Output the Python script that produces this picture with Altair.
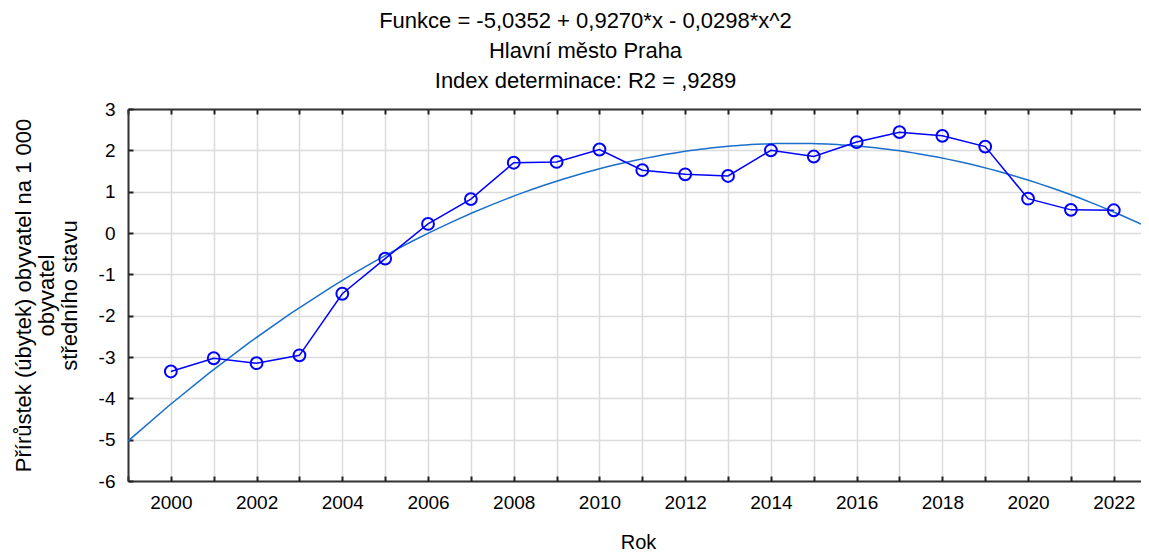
import altair as alt
import pandas as pd

# ---- data ----
years = list(range(2000, 2023))
values = [-3.35, -3.03, -3.15, -2.96, -1.47, -0.62, 0.22, 0.82, 1.70, 1.72,
          2.02, 1.52, 1.42, 1.38, 2.00, 1.85, 2.20, 2.44, 2.35, 2.09,
          0.83, 0.56, 0.55]
title_lines = ["Funkce = -5,0352 + 0,9270*x - 0,0298*x^2",
               "Hlavní město Praha",
               "Index determinace: R2 = ,9289"]
y_title = ["Přírůstek (úbytek) obyvatel na 1 000", "obyvatel", "středního stavu"]
x_title = "Rok"
x_domain = [1999, 2022.635]
y_domain = [-6, 3]
grid_years = list(range(1999, 2023))
y_ticks = list(range(-6, 4))

df = pd.DataFrame({"Rok": years, "val": values})

W, H = 1013, 372
FONT = "Liberation Sans"
BLUE = "#0000ff"
FIT = "#1a6fcc"

xs = alt.Scale(domain=x_domain, nice=False, zero=False)
ys = alt.Scale(domain=y_domain, nice=False, zero=False)

base = alt.Chart(df)

# regression curve with the main (labelled) axes
fit = base.transform_regression(
    "Rok", "val", method="poly", order=2, extent=x_domain
).mark_line(color=FIT, strokeWidth=1.5, clip=True).encode(
    x=alt.X("Rok:Q", scale=xs, axis=alt.Axis(
        orient="bottom", values=grid_years,
        labelExpr="datum.value % 2 == 0 ? toString(datum.value) : ''",
        ticks=False, grid=True, gridColor="#dcdcdc", gridWidth=1.5,
        domain=True, domainColor="#333333", domainWidth=2,
        labelFont=FONT, labelFontSize=19, labelColor="#000000",
        labelPadding=12, labelFlush=False,
        title=x_title, titleFont=FONT, titleFontSize=20,
        titleFontWeight="normal", titleColor="#000000",
        titleX=510, titleY=67, titleBaseline="alphabetic")),
    y=alt.Y("val:Q", scale=ys, axis=alt.Axis(
        orient="left", values=y_ticks, ticks=False, grid=True,
        labelExpr="toString(datum.value)",
        gridColor="#dcdcdc", gridWidth=1.5,
        domain=True, domainColor="#333333", domainWidth=2,
        labelFont=FONT, labelFontSize=19, labelColor="#000000",
        labelPadding=13, labelFlush=False, labelBaseline="middle",
        title=y_title, titleFont=FONT, titleFontSize=22,
        titleFontWeight="normal", titleColor="#000000",
        titleAngle=-90, titleAlign="center", titleBaseline="top",
        titleX=-115, titleY=H / 2, titleLineHeight=23)),
)

# data line; carries the top border (inward ticks) and inward y ticks
line = base.mark_line(color=BLUE, strokeWidth=1.5).encode(
    x=alt.X("Rok:Q", scale=xs, axis=alt.Axis(
        orient="bottom", offset=-H, values=grid_years, labels=False,
        grid=False, ticks=True, tickSize=5, tickWidth=2, tickColor="#222222",
        domain=True, domainColor="#333333", domainWidth=2, title=None)),
    y=alt.Y("val:Q", scale=ys, axis=alt.Axis(
        orient="right", offset=-W, values=y_ticks, labels=False,
        grid=False, ticks=True, tickSize=5, tickWidth=2, tickColor="#222222",
        domain=False, title=None)),
)

# points; carries the inward ticks on the bottom border
pts = base.mark_point(shape="circle", filled=False, size=140, strokeWidth=2,
                      color=BLUE, opacity=1).encode(
    x=alt.X("Rok:Q", scale=xs, axis=alt.Axis(
        orient="top", offset=-H, values=grid_years, labels=False,
        grid=False, ticks=True, tickSize=5, tickWidth=2, tickColor="#222222",
        domain=False, title=None)),
    y=alt.Y("val:Q", scale=ys, axis=None),
)

chart = alt.layer(fit, line, pts).resolve_axis(
    x="independent", y="independent"
).properties(
    width=W, height=H,
    title=alt.Title(text=title_lines, font=FONT, fontSize=22,
                    fontWeight="normal", color="#000000", anchor="middle",
                    frame="group", dx=-49, lineHeight=30, offset=7),
    padding={"left": 120, "top": 101, "right": 0, "bottom": 73},
    autosize=alt.AutoSizeParams(type="none"),
    background="white",
).configure_view(stroke=None)

chart.save("out.html", embed_options={"renderer": "svg", "actions": False})
